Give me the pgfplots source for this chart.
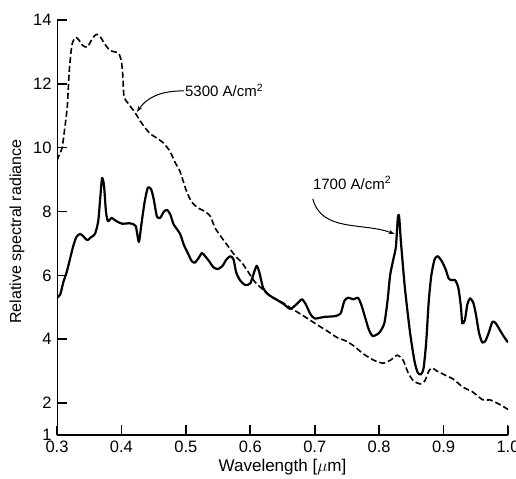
\documentclass[border=0pt]{standalone}
\usepackage{fontspec}
\setmainfont{Liberation Sans}
\usepackage{pgfplots}
\pgfplotsset{compat=1.18}
\usetikzlibrary{arrows.meta}

\pgfplotstableread{
x y
0.300 9.6
0.304 9.8
0.308 10.0
0.312 10.6
0.316 11.3
0.319 12.4
0.323 13.2
0.328 13.45
0.333 13.4
0.340 13.2
0.347 13.15
0.353 13.35
0.358 13.5
0.362 13.55
0.368 13.45
0.374 13.25
0.382 13.05
0.390 13.0
0.396 12.95
0.400 12.7
0.402 12.3
0.404 11.6
0.410 11.4
0.421 11.1
0.432 10.75
0.444 10.45
0.455 10.3
0.465 10.15
0.475 9.9
0.483 9.55
0.491 9.25
0.499 8.75
0.505 8.45
0.511 8.25
0.520 8.1
0.530 8.0
0.538 7.85
0.545 7.5
0.555 7.2
0.566 6.9
0.577 6.6
0.587 6.4
0.597 6.1
0.607 5.8
0.620 5.55
0.635 5.3
0.650 5.15
0.665 4.95
0.685 4.7
0.704 4.45
0.720 4.25
0.735 4.05
0.748 3.95
0.760 3.8
0.775 3.55
0.791 3.35
0.806 3.25
0.818 3.35
0.828 3.5
0.837 3.35
0.845 2.95
0.853 2.7
0.864 2.6
0.871 2.7
0.877 3.0
0.882 3.1
0.890 3.0
0.900 2.9
0.915 2.75
0.930 2.5
0.945 2.35
0.961 2.1
0.972 2.1
0.983 2.0
0.992 1.9
1.000 1.8
}\highcurrent

\pgfplotstableread{
x y
0.300 5.3
0.305 5.4
0.310 5.8
0.315 6.1
0.320 6.5
0.325 6.9
0.330 7.2
0.336 7.3
0.342 7.2
0.347 7.1
0.353 7.2
0.359 7.3
0.364 7.7
0.367 8.4
0.370 9.05
0.373 8.8
0.376 8.0
0.379 7.7
0.385 7.8
0.392 7.7
0.401 7.62
0.413 7.63
0.422 7.55
0.427 7.05
0.431 7.6
0.436 8.3
0.441 8.75
0.446 8.7
0.450 8.4
0.455 7.85
0.460 7.8
0.466 8.0
0.471 8.05
0.476 7.9
0.481 7.6
0.491 7.3
0.497 6.95
0.503 6.7
0.509 6.45
0.514 6.4
0.520 6.55
0.525 6.7
0.530 6.6
0.536 6.45
0.543 6.25
0.550 6.2
0.557 6.3
0.563 6.5
0.569 6.6
0.574 6.5
0.578 6.1
0.584 5.85
0.592 5.7
0.600 5.75
0.606 6.1
0.610 6.3
0.614 6.1
0.620 5.6
0.628 5.4
0.640 5.25
0.652 5.1
0.662 4.95
0.672 5.1
0.680 5.25
0.686 5.1
0.693 4.8
0.700 4.65
0.715 4.7
0.730 4.72
0.740 4.8
0.746 5.2
0.752 5.3
0.760 5.25
0.767 5.3
0.772 5.1
0.778 4.7
0.784 4.3
0.790 4.1
0.800 4.2
0.808 4.5
0.813 5.2
0.817 6.0
0.822 6.5
0.826 6.9
0.829 7.8
0.831 7.85
0.834 7.0
0.840 5.6
0.848 4.2
0.855 3.3
0.860 2.95
0.865 2.9
0.869 3.1
0.873 3.9
0.877 5.2
0.881 6.0
0.886 6.5
0.891 6.6
0.897 6.45
0.903 6.2
0.908 5.9
0.913 5.85
0.918 5.85
0.923 5.6
0.927 5.0
0.929 4.5
0.933 4.6
0.937 5.1
0.941 5.28
0.946 5.15
0.950 4.8
0.955 4.2
0.960 3.9
0.965 3.95
0.970 4.2
0.976 4.55
0.981 4.5
0.987 4.3
0.993 4.1
1.000 3.9
}\lowcurrent

\begin{document}
\begin{tikzpicture}
\begin{axis}[
  scale only axis,
  width=451pt, height=415pt,
  xmin=0.3, xmax=1.0,
  ymin=1, ymax=14,
  axis line style={draw=none},
  xtick pos=bottom, ytick pos=left,
  xtick={0.3,0.4,...,1.0},
  ytick={1,2,4,6,8,10,12,14},
  xticklabel style={/pgf/number format/fixed, /pgf/number format/fixed zerofill, /pgf/number format/precision=1},
  /pgf/number format/assume math mode=true,
  tick align=inside,
  tick style={black, line width=1.3pt},
  major tick length=9pt,
  ticklabel style={font=\fontsize{16.5}{19}\selectfont},
  yticklabel style={xshift=-2pt},
  xticklabel style={yshift=-2pt},
  xlabel={Wavelength [$\mu$m]},
  ylabel={Relative spectral radiance},
  xlabel style={font=\fontsize{17}{20}\selectfont, at={(axis description cs:0.5,-0.077)}, anchor=center},
  ylabel style={font=\fontsize{16}{19}\selectfont, at={(axis description cs:-0.0887,0.49)}, anchor=center},
]
% axis lines and tick marks
\draw[line width=1.4pt, line cap=rect] (axis cs:0.3,14) -- (axis cs:0.3,1) -- (axis cs:1.0,1);
\pgfplotsinvokeforeach{0.4,0.5,0.6,0.7,0.8,0.9,1.0}{
  \draw[black, line width=1.6pt] (axis cs:#1,1) -- (axis cs:#1,1.3);
}
\pgfplotsinvokeforeach{2,4,6,8,10,12,14}{
  \draw[black, line width=1.6pt] (axis cs:0.3,#1) -- (axis cs:0.316,#1);
}
\addplot[black, line width=1.6pt, dash pattern=on 6pt off 3pt, smooth, tension=0.4] table {\highcurrent};
\addplot[black, line width=2.2pt, smooth, tension=0.4, line join=round] table {\lowcurrent};

\node[anchor=west, font=\fontsize{15}{18}\selectfont, inner sep=1pt] at (axis cs:0.497,11.8) {5300 A/cm\textsuperscript{2}};
\draw[line width=1pt, -{Stealth[length=6pt,width=4pt]}] (axis cs:0.497,11.78) to[out=180,in=55] (axis cs:0.424,11.12);
\node[font=\fontsize{15}{18}\selectfont] at (axis cs:0.758,8.9) {1700 A/cm\textsuperscript{2}};
\draw[line width=1pt, -{Stealth[length=6pt,width=4pt]}] (axis cs:0.697,8.4) to[out=-75,in=160] (axis cs:0.824,7.3);
\coordinate (O) at (axis cs:0.3,1);
\coordinate (T) at (axis cs:1.0,14);
\end{axis}
\pgfresetboundingbox
\path[use as bounding box] ([shift={(-57pt,-43pt)}]O) rectangle ([shift={(8pt,20pt)}]T);
\end{tikzpicture}
\end{document}
